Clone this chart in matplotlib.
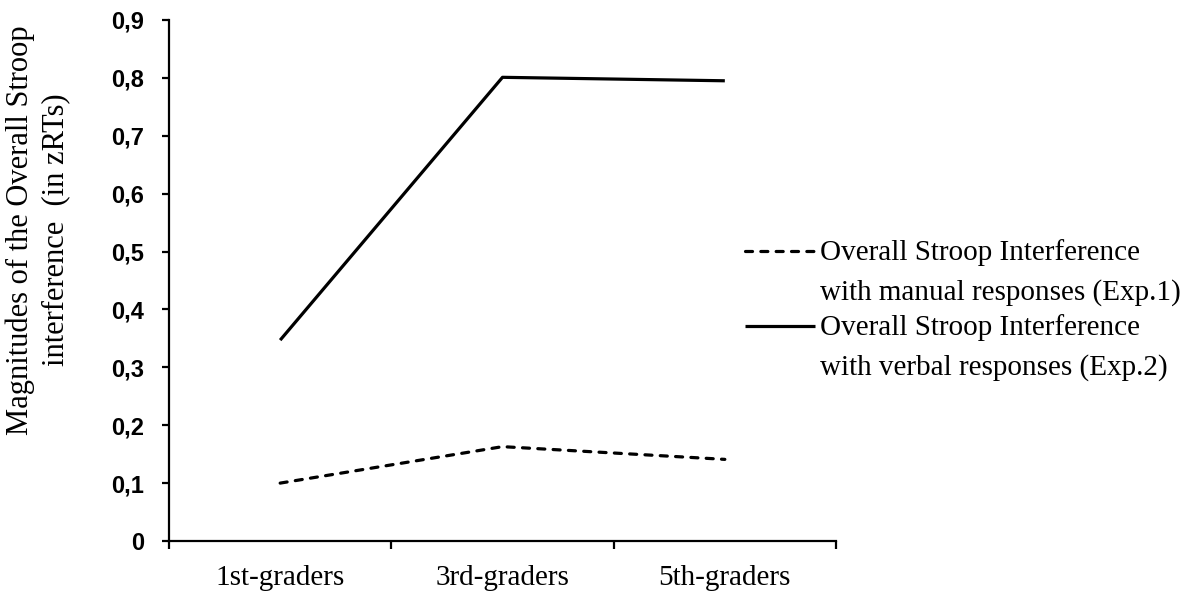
import matplotlib
matplotlib.use("Agg")
import matplotlib.pyplot as plt
from matplotlib.lines import Line2D

# data
grades = ["1st-graders", "3rd-graders", "5th-graders"]
manual = [0.100, 0.163, 0.141]
verbal = [0.347, 0.801, 0.795]
series_labels = ["Overall Stroop Interference\nwith manual responses (Exp.1)",
                 "Overall Stroop Interference\nwith verbal responses (Exp.2)"]
yticks = [0, 0.1, 0.2, 0.3, 0.4, 0.5, 0.6, 0.7, 0.8, 0.9]
ytick_labels = ["0", "0,1", "0,2", "0,3", "0,4", "0,5", "0,6", "0,7", "0,8", "0,9"]

W, H = 1197, 599
fig = plt.figure(figsize=(W / 100, H / 100), dpi=100)
ax = fig.add_axes([169 / W, 58 / H, (836 - 169) / W, (541 - 20) / H])

x = range(1, len(grades) + 1)
styles = [dict(dashes=(2.2, 2.6), dash_capstyle="round"), dict(solid_capstyle="butt")]
for vals, st in zip([manual, verbal], styles):
    ax.plot(x, vals, color="black", lw=2.3, **st)

ax.set_xlim(0.5, 3.5)
ax.set_ylim(0, 0.9)
ax.spines["top"].set_visible(False)
ax.spines["right"].set_visible(False)
ax.spines["left"].set_linewidth(1.6)
ax.spines["bottom"].set_linewidth(1.6)

ax.set_yticks(yticks)
ax.set_yticklabels(ytick_labels, fontfamily="Liberation Sans", fontweight="bold", fontsize=17)
ax.tick_params(axis="y", direction="out", length=5, width=1.6, pad=13)

ax.set_xticks([0.5, 1.5, 2.5, 3.5])
ax.set_xticklabels([])
ax.tick_params(axis="x", which="major", direction="out", length=6, width=1.6)
ax.set_xticks(list(x), minor=True)
ax.set_xticklabels(grades, minor=True, fontfamily="Liberation Serif", fontsize=21)
ax.tick_params(axis="x", which="minor", length=0, pad=17)

fig.text(38 / W, 1 - 230 / H, "Magnitudes of the Overall Stroop\ninterference  (in zRTs)",
         rotation=90, ha="center", va="center", multialignment="center",
         fontfamily="Liberation Serif", fontsize=22, linespacing=1.25)

# legend drawn by hand so the handle sits on the first text line
for (lab, st, ly) in zip(series_labels, styles, [251, 326]):
    fig.add_artist(Line2D([745 / W, 815 / W], [1 - ly / H, 1 - ly / H],
                          transform=fig.transFigure, color="black", lw=2.3, **st))
    fig.text(820 / W, 1 - (ly - 12) / H, lab, ha="left", va="top",
             fontfamily="Liberation Serif", fontsize=21, linespacing=1.62)

fig.savefig("out.png", dpi=100)
